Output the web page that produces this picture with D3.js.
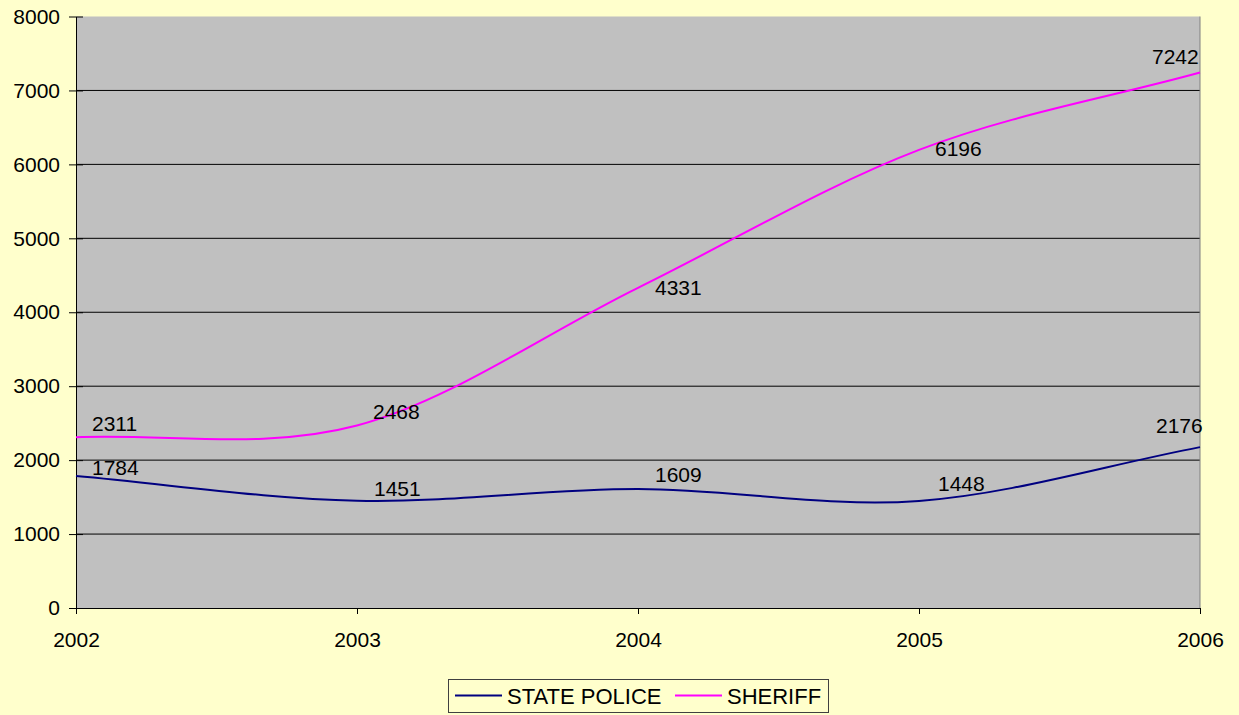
<!DOCTYPE html>
<html>
<head>
<meta charset="utf-8">
<script src="https://cdn.jsdelivr.net/npm/d3@7"></script>
<style>
  body { margin: 0; background: #FFFFCC; }
  svg { display: block; font-family: "Liberation Sans", Arial, sans-serif; }
</style>
</head>
<body>
<svg id="chart" width="1239" height="715"></svg>
<script>
var years = ['2002', '2003', '2004', '2005', '2006'];
var statePolice = [1784, 1451, 1609, 1448, 2176];
var sheriff = [2311, 2468, 4331, 6196, 7242];
var yTicks = [0, 1000, 2000, 3000, 4000, 5000, 6000, 7000, 8000];
var seriesNames = ['STATE POLICE', 'SHERIFF'];

// label nudges (px)
var policeLabelShift = [[16, -8], [17, -12], [17, -14], [19, -17], [-44, -21]];
var sheriffLabelShift = [[16, -13], [16, -14], [17, 0], [16, -1], [-48, -16]];

var svg = d3.select('#chart');
var plotLeft = 76, plotRight = 1200, plotTop = 16.5, plotBottom = 608;

var xScale = d3.scalePoint().domain(years).range([plotLeft, plotRight]);
var yScale = d3.scaleLinear().domain([0, 8000]).range([plotBottom, plotTop]);

// background + plot area
svg.append('rect').attr('width', 1239).attr('height', 715).attr('fill', '#FFFFCC');
svg.append('rect')
    .attr('x', plotLeft).attr('y', plotTop)
    .attr('width', plotRight - plotLeft).attr('height', plotBottom - plotTop)
    .attr('fill', '#C0C0C0');

// gridlines
svg.append('g').selectAll('line')
    .data(yTicks.filter(function (t) { return t > 0 && t < 8000; }))
    .enter().append('line')
    .attr('x1', plotLeft).attr('x2', plotRight)
    .attr('y1', function (d) { return yScale(d); })
    .attr('y2', function (d) { return yScale(d); })
    .attr('stroke', '#000').attr('stroke-width', 1);

// right edge of plot
svg.append('line')
    .attr('x1', plotRight).attr('x2', plotRight).attr('y1', plotTop).attr('y2', plotBottom)
    .attr('stroke', '#808080');

// y axis
var yAxis = d3.axisLeft(yScale).tickValues(yTicks).tickFormat(d3.format('d'))
    .tickSize(7).tickSizeOuter(0).tickPadding(9);
var gy = svg.append('g').attr('transform', 'translate(' + plotLeft + ',0)').call(yAxis);
gy.selectAll('.tick line').attr('x2', 7).attr('x1', -7).attr('stroke', '#000');
gy.select('.domain').attr('stroke', '#000');
gy.selectAll('text').style('font-size', '21px').attr('fill', '#000');

// x axis
var xAxis = d3.axisBottom(xScale).tickSize(6).tickSizeOuter(0).tickPadding(18);
var gx = svg.append('g').attr('transform', 'translate(0,' + plotBottom + ')').call(xAxis);
gx.select('.domain').attr('stroke', '#000');
gx.selectAll('.tick line').attr('stroke', '#000');
gx.selectAll('text').style('font-size', '21px').attr('fill', '#000');

// excel-style smoothed line: catmull-rom inside, chord/3 handles at the ends
function smoothPath(values) {
    var pts = values.map(function (v, i) { return [xScale(years[i]), yScale(v)]; });
    var p = d3.path();
    p.moveTo(pts[0][0], pts[0][1]);
    var n = pts.length;
    for (var i = 0; i < n - 1; i++) {
        var a = pts[i], b = pts[i + 1], c1, c2;
        if (i === 0) {
            c1 = [a[0] + (b[0] - a[0]) / 3, a[1] + (b[1] - a[1]) / 3];
        } else {
            var prev = pts[i - 1];
            c1 = [a[0] + (b[0] - prev[0]) / 6, a[1] + (b[1] - prev[1]) / 6];
        }
        if (i === n - 2) {
            c2 = [b[0] - (b[0] - a[0]) / 3, b[1] - (b[1] - a[1]) / 3];
        } else {
            var next = pts[i + 2];
            c2 = [b[0] - (next[0] - a[0]) / 6, b[1] - (next[1] - a[1]) / 6];
        }
        p.bezierCurveTo(c1[0], c1[1], c2[0], c2[1], b[0], b[1]);
    }
    return p.toString();
}

svg.append('path').attr('d', smoothPath(statePolice))
    .attr('fill', 'none').attr('stroke', '#000080').attr('stroke-width', 2);
svg.append('path').attr('d', smoothPath(sheriff))
    .attr('fill', 'none').attr('stroke', '#FF00FF').attr('stroke-width', 2);

// data labels
function addLabels(values, shifts) {
    svg.append('g').selectAll('text')
        .data(values)
        .enter().append('text')
        .attr('x', function (d, i) { return xScale(years[i]) + shifts[i][0]; })
        .attr('y', function (d, i) { return yScale(d) + shifts[i][1]; })
        .attr('dy', '0.35em')
        .style('font-size', '21px')
        .attr('fill', '#000')
        .text(function (d) { return d; });
}
addLabels(statePolice, policeLabelShift);
addLabels(sheriff, sheriffLabelShift);

// legend
var legend = svg.append('g');
legend.append('rect')
    .attr('x', 448.5).attr('y', 679.5).attr('width', 380).attr('height', 33)
    .attr('fill', '#FFFFCC').attr('stroke', '#404040').attr('stroke-width', 1);
var legendColors = ['#000080', '#FF00FF'];
var legendX = [455, 675];
seriesNames.forEach(function (name, i) {
    legend.append('line')
        .attr('x1', legendX[i]).attr('x2', legendX[i] + 47)
        .attr('y1', 695.5).attr('y2', 695.5)
        .attr('stroke', legendColors[i]).attr('stroke-width', 2);
    legend.append('text')
        .attr('x', legendX[i] + 52).attr('y', 696).attr('dy', '0.35em')
        .style('font-size', '22px').attr('fill', '#000')
        .text(name);
});
</script>
</body>
</html>
